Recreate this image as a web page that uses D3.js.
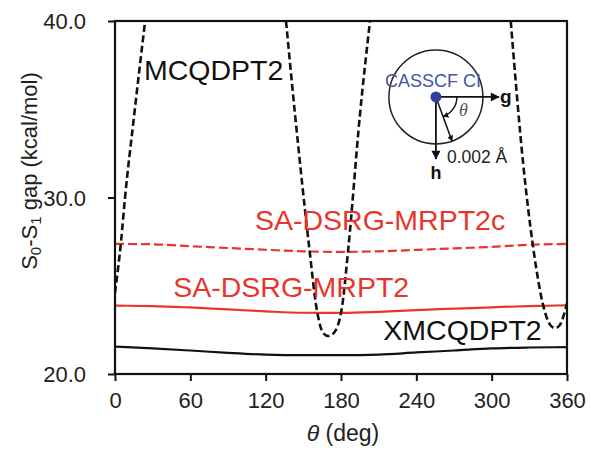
<!DOCTYPE html>
<html>
<head>
<meta charset="utf-8">
<script src="https://cdn.jsdelivr.net/npm/d3@7"></script>
<style>
  html, body { margin: 0; padding: 0; background: #fff; }
  svg { display: block; font-family: Arial, "Liberation Sans", sans-serif; }
</style>
</head>
<body>
<svg id="chart" width="591" height="452"></svg>
<script>
// ---- data ----
const xTicks = [0, 60, 120, 180, 240, 300, 360];
const yTicks = [20, 30, 40];
const yTickLabels = ["20.0", "30.0", "40.0"];

// XMCQDPT2 (black solid)
const xmcqdpt2 = [[0,21.55],[30,21.45],[60,21.33],[90,21.2],[120,21.1],[150,21.07],[180,21.07],[210,21.1],[240,21.22],[270,21.33],[300,21.45],[330,21.5],[360,21.52]];
// SA-DSRG-MRPT2 (red solid)
const dsrg = [[0,23.87],[30,23.85],[60,23.77],[90,23.66],[120,23.55],[150,23.47],[180,23.46],[210,23.52],[240,23.62],[270,23.7],[300,23.78],[330,23.85],[360,23.89]];
// SA-DSRG-MRPT2c (red dashed)
const dsrgc = [[0,27.37],[30,27.35],[60,27.24],[90,27.14],[120,27.04],[150,26.95],[180,26.92],[210,26.95],[240,27.03],[270,27.12],[300,27.2],[330,27.32],[360,27.37]];
// MCQDPT2 (black dashed), three visible branches (clipped at 40)
const mcq1 = [[0,24.6],[4.8,27.5],[8,30],[15,34.5],[24,40]];
const mcq2 = [[136.2,40],[143.4,34.7],[154.8,27.1],[160.6,23.7],[166,22.3],[170,22.15],[174,22.3],[180.6,23.7],[185.8,27.1],[195.1,34.7],[203.1,40]];
const mcq3 = [[315.2,40],[325.2,31.84],[333.2,27.1],[341,23.9],[347,22.75],[350.5,22.6],[354,22.75],[360,24.0]];

// ---- layout ----
const svg = d3.select("#chart");
const m = {left: 115, top: 21, right: 24, bottom: 78};
const W = 591 - m.left - m.right, H = 452 - m.top - m.bottom;
const x = d3.scaleLinear().domain([0, 360]).range([0, W]);
const y = d3.scaleLinear().domain([20, 40]).range([H, 0]);
const RED = "#e8352b";

const g = svg.append("g").attr("transform", `translate(${m.left},${m.top})`);

g.append("clipPath").attr("id", "clip").append("rect")
  .attr("x", 0).attr("y", 0).attr("width", W).attr("height", H);

const line = d3.line().x(d => x(d[0])).y(d => y(d[1])).curve(d3.curveMonotoneX);
const plot = g.append("g").attr("clip-path", "url(#clip)");

plot.append("path").datum(xmcqdpt2).attr("d", line)
  .attr("fill", "none").attr("stroke", "#111").attr("stroke-width", 2.2);
plot.append("path").datum(dsrg).attr("d", line)
  .attr("fill", "none").attr("stroke", RED).attr("stroke-width", 2.2);
plot.append("path").datum(dsrgc).attr("d", line)
  .attr("fill", "none").attr("stroke", RED).attr("stroke-width", 2.2)
  .attr("stroke-dasharray", "9,4");
[mcq1, mcq2, mcq3].forEach(s => {
  plot.append("path").datum(s).attr("d", line)
    .attr("fill", "none").attr("stroke", "#111").attr("stroke-width", 2.6)
    .attr("stroke-dasharray", "7,3.5");
});

// ---- axes ----
const axisStyle = sel => {
  sel.select(".domain").remove();
  sel.selectAll(".tick line").attr("stroke", "#111").attr("stroke-width", 2);
  sel.selectAll(".tick text").attr("fill", "#222").style("font-size", "22px")
    .style("font-family", "Arial, 'Liberation Sans', sans-serif");
};
const xAxis = g.append("g").attr("transform", `translate(0,${H})`)
  .call(d3.axisBottom(x).tickValues(xTicks).tickSize(7).tickPadding(11).tickFormat(d3.format("d")));
axisStyle(xAxis);
const yAxis = g.append("g")
  .call(d3.axisLeft(y).tickValues(yTicks).tickSize(7).tickPadding(22)
    .tickFormat((d, i) => yTickLabels[i]));
axisStyle(yAxis);
yAxis.selectAll(".tick text").attr("dy", "0.36em");

// frame
g.append("rect").attr("x", 0).attr("y", 0).attr("width", W).attr("height", H)
  .attr("fill", "none").attr("stroke", "#111").attr("stroke-width", 2.2);

// ---- axis titles ----
const yt = svg.append("text")
  .attr("transform", `translate(37,171) rotate(-90)`)
  .attr("text-anchor", "middle").attr("fill", "#222").style("font-size", "22px");
yt.append("tspan").text("S");
yt.append("tspan").text("0").attr("baseline-shift", "-25%").style("font-size", "15px");
yt.append("tspan").text("-S");
yt.append("tspan").text("1").attr("baseline-shift", "-25%").style("font-size", "15px");
yt.append("tspan").text(" gap (kcal/mol)");

const xt = svg.append("text")
  .attr("x", m.left + x(180) + 2).attr("y", 441)
  .attr("text-anchor", "middle").attr("fill", "#222").style("font-size", "23px");
xt.append("tspan").text("θ").style("font-style", "italic");
xt.append("tspan").text(" (deg)");

// ---- series labels (data coordinates) ----
const labels = [
  {t: "MCQDPT2", th: 23.1, v: 36.64, c: "#111"},
  {t: "SA-DSRG-MRPT2c", th: 111.5, v: 28.16, c: RED},
  {t: "SA-DSRG-MRPT2", th: 46.4, v: 24.38, c: RED},
  {t: "XMCQDPT2", th: 213.7, v: 21.93, c: "#111"}
];
g.selectAll(".lab").data(labels).enter().append("text")
  .attr("x", d => x(d.th)).attr("y", d => y(d.v))
  .attr("fill", d => d.c).style("font-size", "28.5px").text(d => d.t);

// ---- inset ----
const cx = x(255.6), cy = y(35.7), R = 47;
const defs = svg.append("defs");
defs.append("marker").attr("id", "ah").attr("viewBox", "0 0 10 10")
  .attr("refX", 9).attr("refY", 5).attr("markerWidth", 10).attr("markerHeight", 9)
  .attr("markerUnits", "userSpaceOnUse").attr("orient", "auto")
  .append("path").attr("d", "M0,0 L10,5 L0,10 Z").attr("fill", "#111");
defs.append("marker").attr("id", "ahs").attr("viewBox", "0 0 10 10")
  .attr("refX", 9).attr("refY", 5).attr("markerWidth", 6).attr("markerHeight", 6)
  .attr("markerUnits", "userSpaceOnUse").attr("orient", "auto")
  .append("path").attr("d", "M0,0 L10,5 L0,10 Z").attr("fill", "#111");

const ins = g.append("g");
ins.append("circle").attr("cx", cx).attr("cy", cy).attr("r", R)
  .attr("fill", "none").attr("stroke", "#222").attr("stroke-width", 1.5);
ins.append("line").attr("x1", cx).attr("y1", cy).attr("x2", cx + 63).attr("y2", cy)
  .attr("stroke", "#111").attr("stroke-width", 1.8).attr("marker-end", "url(#ah)");
ins.append("line").attr("x1", cx).attr("y1", cy).attr("x2", cx).attr("y2", cy + 62)
  .attr("stroke", "#111").attr("stroke-width", 1.8).attr("marker-end", "url(#ah)");
const a = 70 * Math.PI / 180;
ins.append("line").attr("x1", cx).attr("y1", cy)
  .attr("x2", cx + R * Math.cos(a)).attr("y2", cy + R * Math.sin(a))
  .attr("stroke", "#111").attr("stroke-width", 1.5).attr("marker-end", "url(#ahs)");
const r2 = 21;
ins.append("path")
  .attr("d", `M${cx + r2},${cy} A${r2},${r2} 0 0 1 ${cx + r2 * Math.cos(a)},${cy + r2 * Math.sin(a)}`)
  .attr("fill", "none").attr("stroke", "#111").attr("stroke-width", 1.4).attr("marker-end", "url(#ahs)");
ins.append("circle").attr("cx", cx).attr("cy", cy).attr("r", 5.5).attr("fill", "#2e3f9c");
ins.append("text").attr("x", cx - 3).attr("y", cy - 10).attr("text-anchor", "middle")
  .attr("fill", "#4653a6").style("font-size", "18px").text("CASSCF CI");
ins.append("text").attr("x", cx + 64).attr("y", cy + 6)
  .attr("fill", "#111").style("font-size", "19px").style("font-weight", "bold").text("g");
ins.append("text").attr("x", cx).attr("y", cy + 82).attr("text-anchor", "middle")
  .attr("fill", "#111").style("font-size", "18px").style("font-weight", "bold").text("h");
ins.append("text").attr("x", cx + 11).attr("y", cy + 66)
  .attr("fill", "#222").style("font-size", "17.5px").text("0.002 Å");
ins.append("text").attr("x", cx + 23).attr("y", cy + 19)
  .attr("fill", "#555").style("font-size", "18px").style("font-style", "italic")
  .style("font-family", "'Liberation Serif', 'DejaVu Serif', serif").text("θ");
</script>
</body>
</html>
